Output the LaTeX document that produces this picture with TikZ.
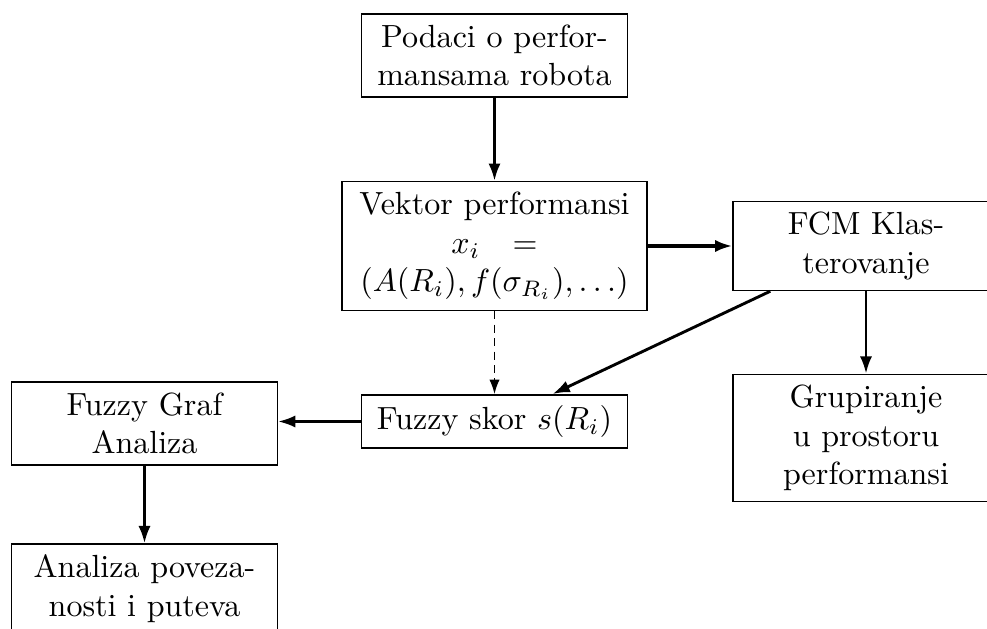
\documentclass[tikz,border=0pt]{standalone}
\usetikzlibrary{arrows.meta}
\begin{document}
\begin{tikzpicture}[x=0.312pt,y=-0.312pt,
  box/.style={draw, align=center, text width=76.2pt, line width=0.45pt},
  arr/.style={-{Latex[length=5.4pt,width=3.8pt]}, line width=0.9pt},
  darr/.style={-{Latex[length=4.5pt,width=3.2pt]}, dash pattern=on 2.6pt off 1.6pt, line width=0.45pt}]
\useasboundingbox (0,0) rectangle (987,629);
\clip (0,0) rectangle (987,629);
\node[box] (p) at (494.5,55.5) {Podaci o perfor-\\mansama robota};
\node[box, text width=88.6pt] (v) at (494.5,246) {Vektor performansi\\$x_i\hspace{3pt}=$\\$(A(R_i), f(\sigma_{R_i}), \ldots)$};
\node[box] (fcm) at (866,246) {FCM Klas-\\terovanje};
\node[box] (gr) at (866,438) {Grupiranje\\u prostoru\\performansi};
\node[box] (fs) at (494.5,421.5) {Fuzzy skor $s(R_i)$};
\node[box] (fg) at (144.5,423.5) {Fuzzy Graf\\Analiza};
\node[box] (an) at (144.5,588.5) {Analiza poveza-\\nosti i puteva};
\draw[arr] (p) -- (v);
\draw[arr, line width=1.4pt] (v.east) -- (fcm.west);
\draw[darr] (v) -- (fs);
\draw[arr] (fcm) -- (fs);
\draw[arr] (fcm) -- (gr);
\draw[arr] (fs.west) -- (fs.west -| fg.east);
\draw[arr] (fg) -- (an);
\end{tikzpicture}
\end{document}
